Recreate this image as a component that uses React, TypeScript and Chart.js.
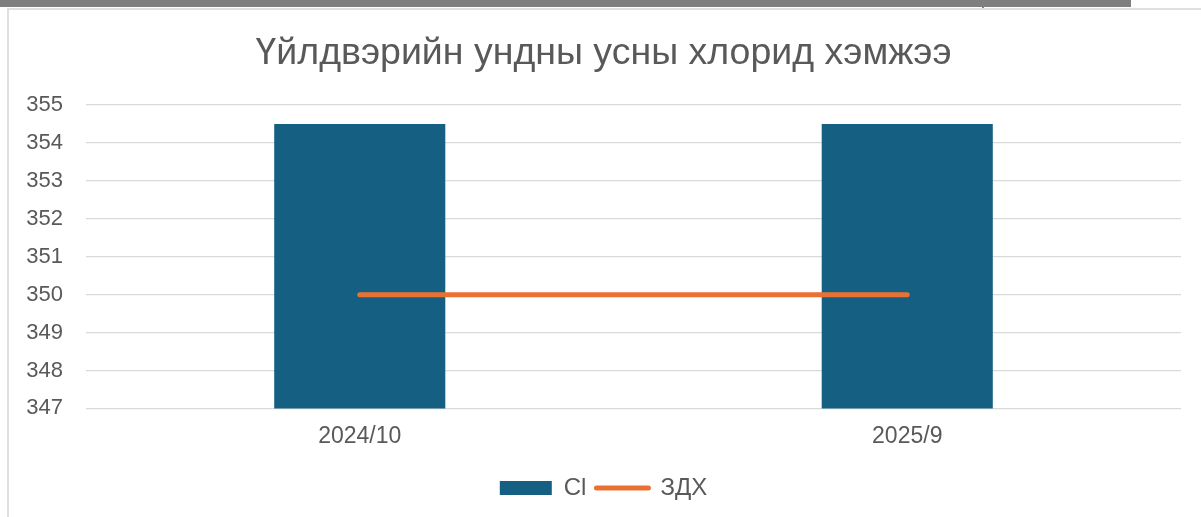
import React, { useEffect, useRef } from "react";
import { Chart, registerables } from "chart.js";

Chart.register(...registerables);

const TITLE = "Үйлдвэрийн ундны усны хлорид хэмжээ";
const categories = ["2024/10", "2025/9"];
const clValues = [354.5, 354.5];
const zdhValues = [350, 350];
const seriesNames = ["Cl", "ЗДХ"];
const yMin = 347;
const yMax = 355;
const yStep = 1;

const BAR_COLOR = "#156082";
const LINE_COLOR = "#E97132";
const TEXT_COLOR = "#595959";
const GRID_COLOR = "#d9d9d9";
const FONT = "'Liberation Sans', Arial, sans-serif";

export default function App() {
  const ref = useRef<HTMLCanvasElement | null>(null);

  useEffect(() => {
    if (!ref.current) return;
    const chart = new Chart(ref.current, {
      type: "bar",
      data: {
        labels: categories,
        datasets: [
          {
            type: "bar",
            label: seriesNames[0],
            data: clValues,
            backgroundColor: BAR_COLOR,
            borderWidth: 0,
            categoryPercentage: 1,
            barPercentage: 0.3125,
            order: 1,
          },
          {
            type: "line",
            label: seriesNames[1],
            data: zdhValues,
            borderColor: LINE_COLOR,
            backgroundColor: LINE_COLOR,
            borderWidth: 5,
            borderCapStyle: "round",
            pointRadius: 0,
            pointHoverRadius: 0,
            fill: false,
            order: 0,
          },
        ],
      } as any,
      options: {
        animation: false,
        responsive: false,
        maintainAspectRatio: false,
        layout: { padding: { left: 17, right: 20, top: 0, bottom: 7 } },
        plugins: {
          tooltip: { enabled: false },
          title: {
            display: true,
            text: TITLE,
            color: TEXT_COLOR,
            font: { family: FONT, size: 37.5, weight: "normal" },
            padding: { top: 21, bottom: 29 },
          },
          legend: {
            display: true,
            position: "bottom",
            labels: {
              usePointStyle: true,
              pointStyleWidth: 52,
              boxHeight: 14,
              padding: 10,
              color: TEXT_COLOR,
              font: { family: FONT, size: 24 },
              generateLabels: () => [
                {
                  text: seriesNames[0],
                  fillStyle: BAR_COLOR,
                  strokeStyle: BAR_COLOR,
                  lineWidth: 0,
                  pointStyle: "rect",
                  datasetIndex: 0,
                  fontColor: TEXT_COLOR,
                  hidden: false,
                },
                {
                  text: seriesNames[1],
                  fillStyle: LINE_COLOR,
                  strokeStyle: LINE_COLOR,
                  lineWidth: 5,
                  lineCap: "round",
                  pointStyle: "line",
                  datasetIndex: 1,
                  fontColor: TEXT_COLOR,
                  hidden: false,
                } as any,
              ],
            },
          },
        },
        scales: {
          x: {
            grid: { display: false },
            border: { display: false },
            ticks: {
              color: TEXT_COLOR,
              font: { family: FONT, size: 23 },
              padding: 6,
              maxRotation: 0,
            },
            afterFit: (scale: any) => {
              scale.height += 10;
            },
          },
          y: {
            min: yMin,
            max: yMax,
            border: { display: false },
            grid: { color: GRID_COLOR, lineWidth: 1.3, drawTicks: false },
            ticks: {
              stepSize: yStep,
              color: TEXT_COLOR,
              font: { family: FONT, size: 22 },
              padding: 23,
            },
            afterFit: (scale: any) => {
              scale.width = 60;
            },
          },
        },
      } as any,
    });
    return () => chart.destroy();
  }, []);

  return (
    <div
      style={{
        position: "absolute",
        left: 0,
        top: 0,
        width: 1201,
        height: 517,
        overflow: "hidden",
        background: "#ffffff",
      }}
    >
      <div style={{ position: "absolute", left: 0, top: 0, width: 1131, height: 7, background: "#7f7f7f" }} />
      <div style={{ position: "absolute", left: 982, top: 7, width: 2, height: 2, background: "#7f7f7f" }} />
      <div style={{ position: "absolute", left: 7, top: 8, width: 1194, height: 2, background: "#e0e0e0" }} />
      <div style={{ position: "absolute", left: 7, top: 8, width: 2, height: 509, background: "#e0e0e0" }} />
      <canvas
        ref={ref}
        width={1192}
        height={507}
        style={{ position: "absolute", left: 9, top: 10, width: 1192, height: 507 }}
      />
    </div>
  );
}
